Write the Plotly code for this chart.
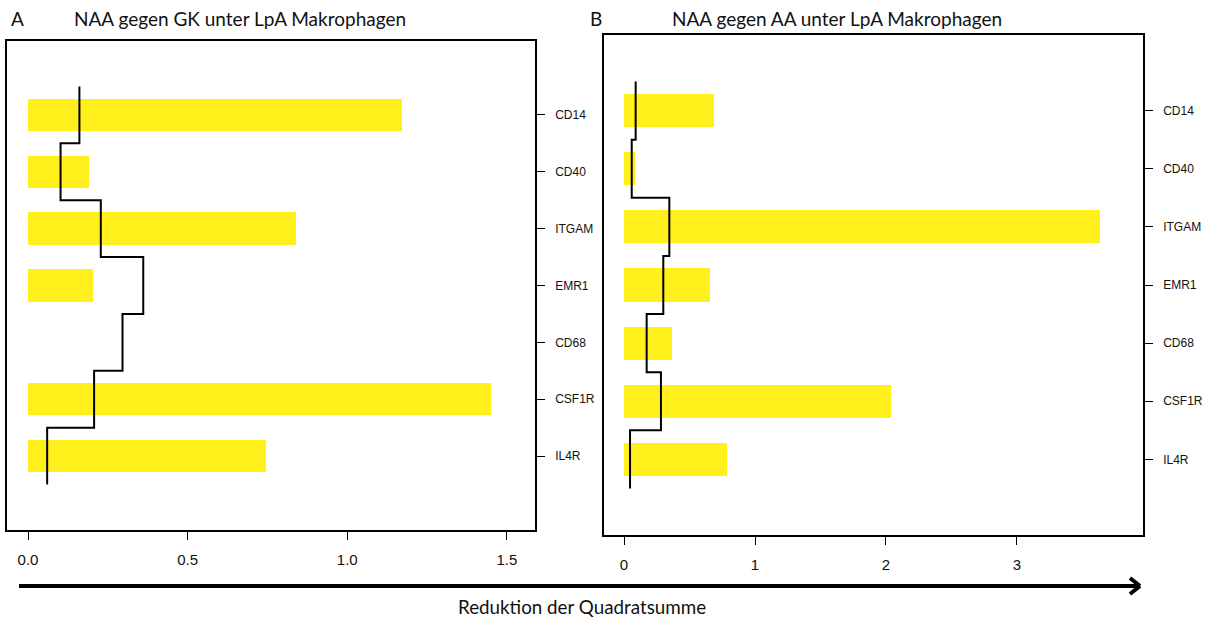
import plotly.graph_objects as go

W, H = 1207, 619

genes = ["CD14", "CD40", "ITGAM", "EMR1", "CD68", "CSF1R", "IL4R"]

# Panel A: NAA gegen GK
bars_a = [1.17, 0.19, 0.84, 0.205, 0.0, 1.45, 0.745]
step_a = [0.161, 0.102, 0.228, 0.361, 0.296, 0.207, 0.060]

# Panel B: NAA gegen AA
bars_b = [0.69, 0.085, 3.63, 0.66, 0.37, 2.04, 0.79]
step_b = [0.089, 0.059, 0.346, 0.300, 0.173, 0.282, 0.046]

ticks_a = [0.0, 0.5, 1.0, 1.5]
ticks_b = [0, 1, 2, 3]

title_a = "NAA gegen GK unter LpA Makrophagen"
title_b = "NAA gegen AA unter LpA Makrophagen"
xlabel = "Reduktion der Quadratsumme"

YELLOW = "#FFEF1A"
n = len(genes)
pos = [n - 1 - i for i in range(n)]


def step_xy(vals):
    xs, ys = [], []
    for v, p in zip(vals, pos):
        xs += [v, v]
        ys += [p + 0.5, p - 0.5]
    return xs, ys


fig = go.Figure()

for k, (bars, step) in enumerate([(bars_a, step_a), (bars_b, step_b)]):
    xa = "x" if k == 0 else "x2"
    ya = "y" if k == 0 else "y2"
    fig.add_trace(go.Bar(x=bars, y=pos, orientation="h", width=0.57,
                         marker=dict(color=YELLOW, line=dict(width=0)),
                         xaxis=xa, yaxis=ya, showlegend=False))
    sx, sy = step_xy(step)
    fig.add_trace(go.Scatter(x=sx, y=sy, mode="lines",
                             line=dict(color="black", width=2),
                             xaxis=xa, yaxis=ya, showlegend=False))


def px(x):
    return x / W


def py(y):
    return 1 - y / H


tickfont = dict(family="Arial, Liberation Sans, sans-serif", size=15, color="#111")
ytickfont = dict(family="Arial, Liberation Sans, sans-serif", size=12, color="#111")

common_x = dict(showgrid=False, zeroline=False, showline=True, mirror=True,
                linecolor="black", linewidth=1.5, ticks="outside", ticklen=8,
                tickcolor="black", tickwidth=1, tickfont=tickfont,
                ticklabelstandoff=7, fixedrange=True)
common_y = dict(showgrid=False, zeroline=False, showline=True, mirror=True,
                linecolor="black", linewidth=1.5, ticks="outside", ticklen=8,
                tickcolor="black", tickwidth=1, tickfont=ytickfont, side="right",
                tickvals=pos, ticktext=genes, range=[-1.3, 7.3],
                ticklabelstandoff=8, fixedrange=True)

fig.update_layout(
    width=W, height=H, autosize=False,
    margin=dict(l=0, r=0, t=0, b=0),
    paper_bgcolor="white", plot_bgcolor="white",
    bargap=0,
    xaxis=dict(domain=[px(7), px(535)], range=[-0.0658, 1.588],
               tickvals=ticks_a, ticktext=[f"{t:.1f}" for t in ticks_a],
               anchor="y", **common_x),
    yaxis=dict(domain=[py(530), py(41)], anchor="x", **common_y),
    xaxis2=dict(domain=[px(604), px(1143)], range=[-0.1527, 3.962],
                tickvals=ticks_b, ticktext=[str(t) for t in ticks_b],
                anchor="y2", **common_x),
    yaxis2=dict(domain=[py(535), py(35)], anchor="x2", **common_y),
)

titlefont = dict(family="Lato, Open Sans, sans-serif", size=19, color="#111")
ann = [
    dict(text="A", x=px(17), y=py(18), xanchor="center", yanchor="middle", size=19),
    dict(text=title_a, x=px(72), y=py(18), xanchor="left", yanchor="middle", size=19),
    dict(text="B", x=px(596), y=py(18), xanchor="center", yanchor="middle", size=19),
    dict(text=title_b, x=px(670), y=py(18), xanchor="left", yanchor="middle", size=19),
    dict(text=xlabel, x=px(582), y=py(606), xanchor="center", yanchor="middle", size=18.8),
]
for a in ann:
    s = a.pop("size")
    fig.add_annotation(xref="paper", yref="paper", showarrow=False,
                       font=dict(titlefont, size=s), **a)

# bottom arrow
fig.add_shape(type="line", xref="paper", yref="paper",
              x0=px(19), x1=px(1138), y0=py(586), y1=py(586),
              line=dict(color="black", width=4))
fig.add_shape(type="line", xref="paper", yref="paper",
              x0=px(1130), x1=px(1140), y0=py(578), y1=py(586),
              line=dict(color="black", width=4))
fig.add_shape(type="line", xref="paper", yref="paper",
              x0=px(1130), x1=px(1140), y0=py(594), y1=py(586),
              line=dict(color="black", width=4))

fig.write_html("out.html")
